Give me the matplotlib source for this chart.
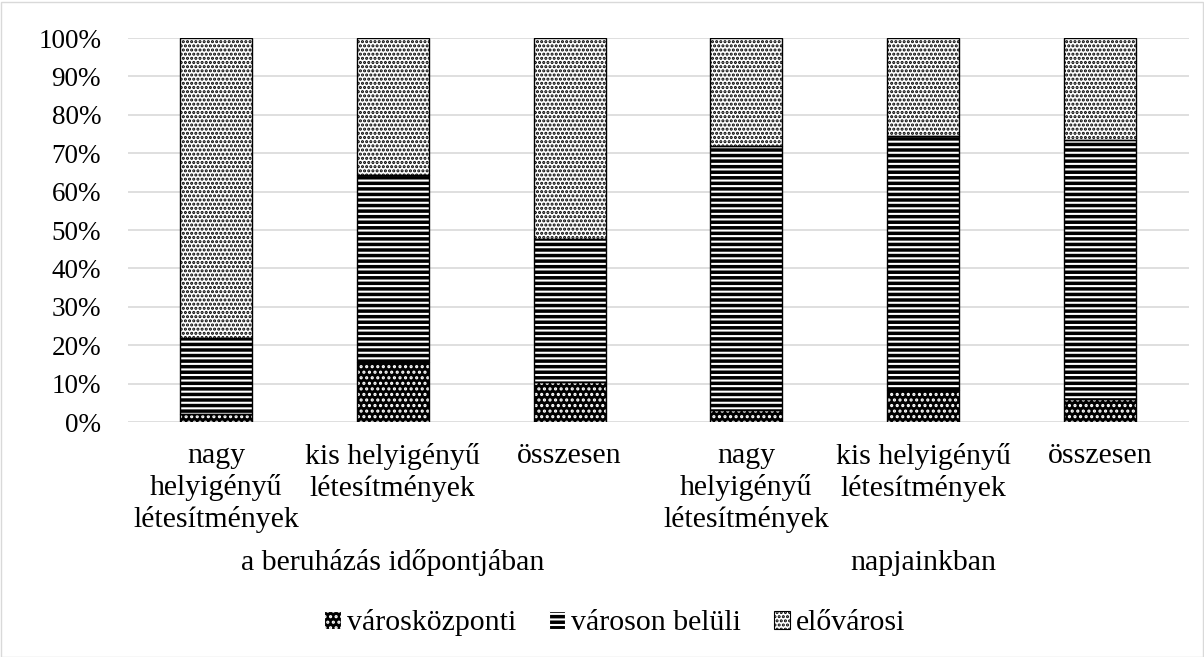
import matplotlib.pyplot as plt
from matplotlib.patches import Patch, Rectangle
from matplotlib.ticker import PercentFormatter
import matplotlib.transforms as mtransforms

categories = ["nagy\nhelyigényű\nlétesítmények", "kis helyigényű\nlétesítmények", "összesen",
              "nagy\nhelyigényű\nlétesítmények", "kis helyigényű\nlétesítmények", "összesen"]
groups = ["a beruházás időpontjában", "napjainkban"]
series_names = ["városközponti", "városon belüli", "elővárosi"]

varoskozponti = [2.0, 15.5, 10.5, 3.0, 8.3, 5.9]
varoson_belul = [19.8, 48.8, 37.2, 68.9, 66.2, 67.5]
elovarosi = [78.2, 35.7, 52.3, 28.1, 25.5, 26.6]

plt.rcParams['font.family'] = ['Liberation Serif', 'DejaVu Serif']
plt.rcParams['hatch.linewidth'] = 1.5
fs = 21.5

fig = plt.figure(figsize=(12.04, 6.57), dpi=100)
ax = fig.add_axes([127.5 / 1204, (657 - 422) / 657, 1061 / 1204, 384 / 657])

x = list(range(len(categories)))
w = 0.407
styles = [
    dict(facecolor="black", edgecolor="white", hatch="..."),
    dict(facecolor="black", edgecolor="white", hatch="---"),
    dict(facecolor="white", edgecolor="black", hatch="...."),
]
bottom = [0] * len(x)
for vals, st in zip([varoskozponti, varoson_belul, elovarosi], styles):
    ax.bar(x, vals, w, bottom=bottom, linewidth=0, zorder=2, **st)
    ax.bar(x, vals, w, bottom=bottom, fill=False, edgecolor="black", linewidth=1.0, zorder=3)
    bottom = [b + v for b, v in zip(bottom, vals)]

ax.set_xlim(-0.5, len(x) - 0.5)
ax.set_ylim(0, 100)
ax.set_yticks(range(0, 101, 10))
ax.yaxis.set_major_formatter(PercentFormatter(decimals=0))
ax.grid(axis="y", color="#d9d9d9", linewidth=1.2, zorder=0)
ax.set_axisbelow(True)
for s in ax.spines.values():
    s.set_visible(False)
ax.tick_params(axis="y", length=0, pad=19, labelsize=19.5)
ax.tick_params(axis="x", length=0, pad=15, labelsize=fs)
ax.set_xticks(x)
ax.set_xticklabels(categories, linespacing=1.25)

trans = mtransforms.blended_transform_factory(ax.transData, ax.transAxes)
ax.text(1, -0.367, groups[0], transform=trans, ha="center", va="center", fontsize=fs)
ax.text(4, -0.367, groups[1], transform=trans, ha="center", va="center", fontsize=fs)

handles = [Patch(label=n, linewidth=0.8, **st) for n, st in zip(series_names, styles)]
handles[2].set_edgecolor("black")
fig.legend(handles=handles, loc="center", bbox_to_anchor=(615 / 1204, 1 - 623 / 657),
           ncol=3, frameon=False, fontsize=fs, handlelength=0.55, handleheight=0.55,
           handletextpad=0.2, columnspacing=1.1)

fig.add_artist(Rectangle((0.5 / 1204, 0.5 / 657), 1 - 2 / 1204, 1 - 2 / 657,
                         transform=fig.transFigure, fill=False, edgecolor="#d9d9d9", linewidth=1))

fig.savefig("out.png", dpi=100)
